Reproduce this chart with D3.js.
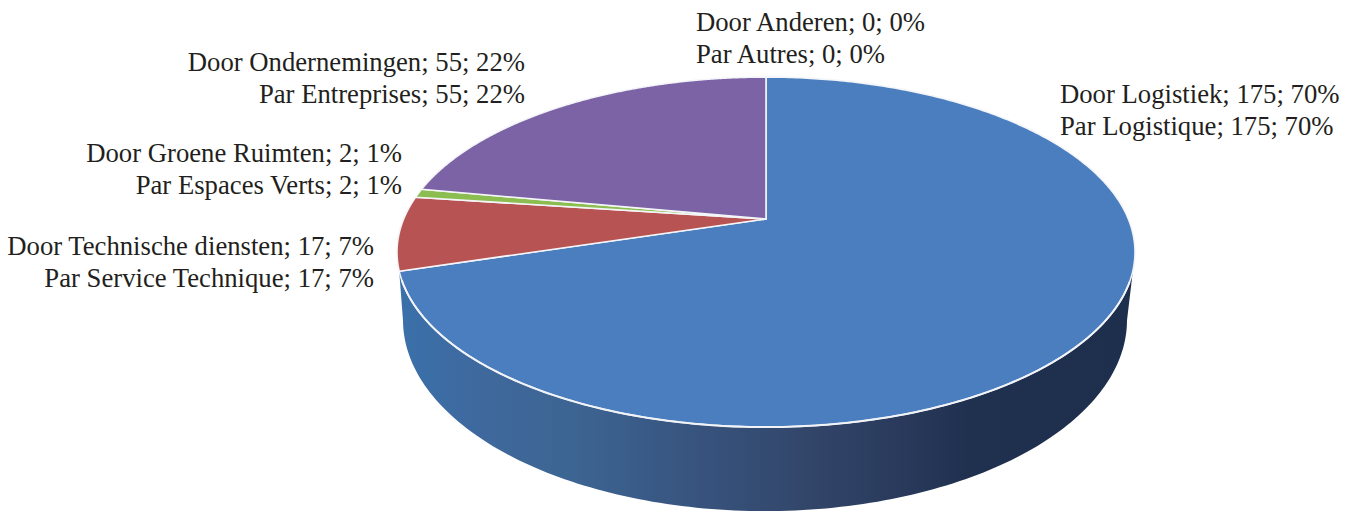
<!DOCTYPE html>
<html>
<head>
<meta charset="utf-8">
<script src="https://cdn.jsdelivr.net/npm/d3@7"></script>
<style>
  html, body { margin: 0; padding: 0; background: #fff; }
  text { font-family: "Liberation Serif", serif; font-size: 26.7px; fill: #231f20; }
</style>
</head>
<body>
<script>
// chart values
var namesNl = ["Door Logistiek", "Door Technische diensten", "Door Groene Ruimten", "Door Ondernemingen", "Door Anderen"];
var namesFr = ["Par Logistique", "Par Service Technique", "Par Espaces Verts", "Par Entreprises", "Par Autres"];
var values = [175, 17, 2, 55, 0];
var percents = [70, 7, 1, 22, 0];
var colors = ["#4a7ebf", "#b85353", "#8cbd50", "#7b63a6", "#46aac5"];

var svgWidth = 1359, svgHeight = 513;

// where the labels sit: x anchor, first baseline, text-anchor
var labelPos = [
    {x: 1060, y: 103, anchor: "start"},
    {x: 374, y: 255, anchor: "end"},
    {x: 402, y: 162, anchor: "end"},
    {x: 525, y: 70.5, anchor: "end"},
    {x: 696, y: 31, anchor: "start"}
];
var lineGap = 32;

// the pie is a tilted disc, so the hub sits above the centre of the rim ellipse
var tilt = -0.189;
var topDisc = {hubX: 766, hubY: 219, rx: 369, ry: 175};
var baseDisc = {hubX: 765, hubY: 284, rx: 362, ry: 191};

function project(angle, disc) {
    var x = Math.sin(angle), y = -Math.cos(angle);
    var w = 1 + tilt * y;
    var sx = d3.scaleLinear().domain([0, Math.sqrt(1 / (1 - tilt * tilt))]).range([disc.hubX, disc.hubX + disc.rx]);
    var sy = d3.scaleLinear().domain([0, 1 / (1 - tilt * tilt)]).range([disc.hubY, disc.hubY + disc.ry]);
    return [sx(x / w), sy(y / w)];
}

// y of the widest point of a disc
function midY(disc) {
    return disc.hubY - tilt * disc.ry;
}

var svg = d3.select("body").append("svg")
    .attr("width", svgWidth)
    .attr("height", svgHeight)
    .style("display", "block");

var arcs = d3.pie().sort(null)(values);
var line = d3.line();

function rimAngles(a0, a1) {
    return d3.range(0, 361).map(function(i) { return a0 + (a1 - a0) * i / 360; });
}

// side wall gradient
var grad = svg.append("defs").append("linearGradient")
    .attr("id", "wall")
    .attr("gradientUnits", "userSpaceOnUse")
    .attr("x1", 400).attr("x2", 1135).attr("y1", 0).attr("y2", 0);
[[0, "#3a70aa"], [0.12, "#3f689c"], [0.23, "#3d6593"], [0.41, "#37537d"], [0.544, "#33476b"], [0.68, "#293a5c"], [0.775, "#20304f"], [1, "#1d2f4d"]]
    .forEach(function(s) {
        grad.append("stop").attr("offset", s[0]).attr("stop-color", s[1]);
    });

// only the front part of the first slice shows a wall
var frontRim = rimAngles(arcs[0].startAngle, arcs[0].endAngle)
    .map(function(a) { return project(a, topDisc); })
    .filter(function(p) { return p[1] >= midY(topDisc); });
var frontBase = rimAngles(0, 2 * Math.PI)
    .map(function(a) { return project(a, baseDisc); })
    .filter(function(p) { return p[1] >= midY(baseDisc); });

svg.append("path")
    .attr("d", line(frontRim.concat(frontBase.slice().reverse())) + "Z")
    .attr("fill", "url(#wall)");

// top face
svg.selectAll("path.slice")
    .data(arcs.filter(function(d) { return d.value > 0; }))
    .enter()
    .append("path")
    .attr("class", "slice")
    .attr("d", function(d) {
        var pts = rimAngles(d.startAngle, d.endAngle).map(function(a) { return project(a, topDisc); });
        pts.unshift([topDisc.hubX, topDisc.hubY]);
        return line(pts) + "Z";
    })
    .attr("fill", function(d) { return colors[d.index]; })
    .attr("stroke", "#f4f5f8")
    .attr("stroke-width", 1.6)
    .attr("stroke-linejoin", "round");

// bright edge where the top meets the wall
svg.append("path")
    .attr("d", line(frontRim.filter(function(p) { return p[1] > 280; })))
    .attr("fill", "none")
    .attr("stroke", "#f1f3f6")
    .attr("stroke-width", 2);

// labels
var labels = svg.selectAll("g.label")
    .data(values)
    .enter()
    .append("g")
    .attr("class", "label");

labels.append("text")
    .attr("x", function(d, i) { return labelPos[i].x; })
    .attr("y", function(d, i) { return labelPos[i].y; })
    .attr("text-anchor", function(d, i) { return labelPos[i].anchor; })
    .text(function(d, i) { return namesNl[i] + "; " + d + "; " + percents[i] + "%"; });

labels.append("text")
    .attr("x", function(d, i) { return labelPos[i].x; })
    .attr("y", function(d, i) { return labelPos[i].y + lineGap; })
    .attr("text-anchor", function(d, i) { return labelPos[i].anchor; })
    .text(function(d, i) { return namesFr[i] + "; " + d + "; " + percents[i] + "%"; });
</script>
</body>
</html>
